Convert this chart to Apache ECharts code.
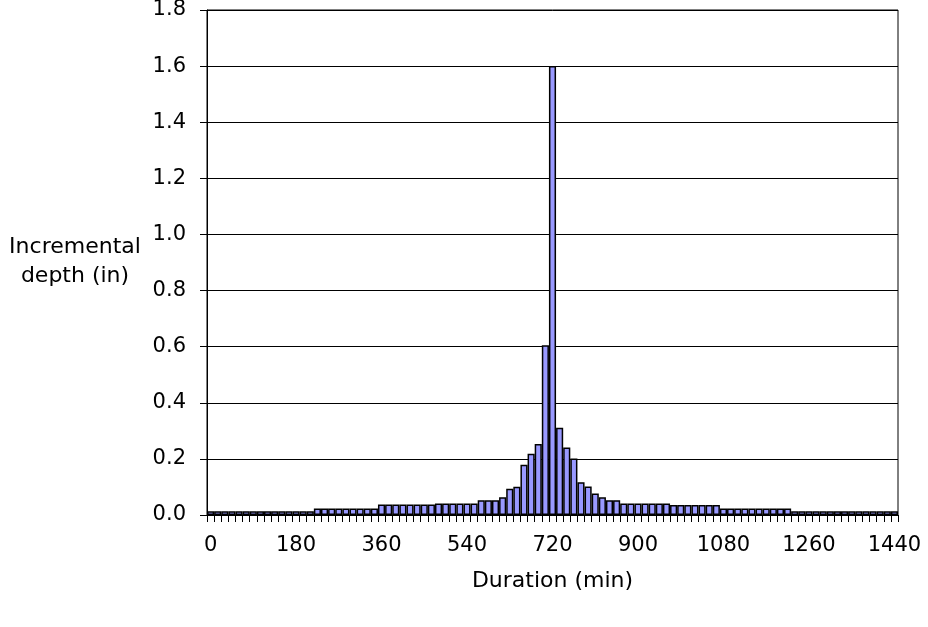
<!DOCTYPE html>
<html>
<head>
<meta charset="UTF-8">
<title>Incremental depth</title>
<script src="https://cdn.jsdelivr.net/npm/echarts@6/dist/echarts.min.js"></script>
<style>
  html, body { margin: 0; padding: 0; background: #fff; }
</style>
</head>
<body>
    <div id="main" style="width: 928px; height: 627px;"></div>
    <script>
        // duration (min), one category per 15 min step
        var minutes = [
            0, 15, 30, 45, 60, 75, 90, 105, 120, 135, 150, 165,
            180, 195, 210, 225, 240, 255, 270, 285, 300, 315, 330, 345,
            360, 375, 390, 405, 420, 435, 450, 465, 480, 495, 510, 525,
            540, 555, 570, 585, 600, 615, 630, 645, 660, 675, 690, 705,
            720, 735, 750, 765, 780, 795, 810, 825, 840, 855, 870, 885,
            900, 915, 930, 945, 960, 975, 990, 1005, 1020, 1035, 1050, 1065,
            1080, 1095, 1110, 1125, 1140, 1155, 1170, 1185, 1200, 1215, 1230, 1245,
            1260, 1275, 1290, 1305, 1320, 1335, 1350, 1365, 1380, 1395, 1410, 1425,
            1440
        ];

        // incremental depth (in)
        var depth = [
            0.013, 0.013, 0.013, 0.013, 0.013, 0.013, 0.013, 0.013, 0.013, 0.013, 0.013, 0.013,
            0.013, 0.013, 0.013, 0.023, 0.023, 0.023, 0.023, 0.023, 0.023, 0.023, 0.023, 0.023,
            0.037, 0.037, 0.037, 0.037, 0.037, 0.037, 0.037, 0.037, 0.041, 0.041, 0.041, 0.041,
            0.041, 0.041, 0.053, 0.053, 0.053, 0.063, 0.094, 0.101, 0.179, 0.218, 0.253, 0.605,
            1.600, 0.311, 0.241, 0.201, 0.117, 0.102, 0.077, 0.063, 0.053, 0.053, 0.041, 0.041,
            0.041, 0.041, 0.041, 0.041, 0.041, 0.036, 0.036, 0.036, 0.036, 0.036, 0.036, 0.036,
            0.023, 0.023, 0.023, 0.023, 0.023, 0.023, 0.023, 0.023, 0.023, 0.023, 0.013, 0.013,
            0.013, 0.013, 0.013, 0.013, 0.013, 0.013, 0.013, 0.013, 0.013, 0.013, 0.013, 0.013,
            0.013
        ];

        var xTickLabels = ['0', '180', '360', '540', '720', '900', '1080', '1260', '1440'];
        var yTicks = [0, 0.2, 0.4, 0.6, 0.8, 1.0, 1.2, 1.4, 1.6, 1.8];

        var font = 'Verdana, "DejaVu Sans", sans-serif';
        var myChart = echarts.init(document.getElementById("main"));

        var option = {
            backgroundColor: '#fff',
            animation: false,
            grid: {
                left: 207, right: 30, top: 10, bottom: 112,
                containLabel: false,
                outerBoundsMode: 'none',
                show: true,
                borderColor: '#000',
                borderWidth: 1
            },
            graphic: [{
                type: 'text',
                x: 75, y: 262,
                style: {
                    text: 'Incremental\ndepth (in)',
                    font: '22px ' + font,
                    fill: '#000',
                    textAlign: 'center',
                    textVerticalAlign: 'middle',
                    lineHeight: 29
                }
            }],
            xAxis: {
                type: 'category',
                data: minutes,
                boundaryGap: true,
                name: 'Duration (min)',
                nameLocation: 'middle',
                nameGap: 55,
                nameTextStyle: { fontFamily: font, fontSize: 22, color: '#000' },
                axisLine: { lineStyle: { color: '#000', width: 1 } },
                axisTick: { show: true, interval: 0, length: 7, lineStyle: { color: '#000' } },
                axisLabel: {
                    interval: 11,
                    margin: 20,
                    fontFamily: font, fontSize: 21, color: '#000',
                    formatter: function (v) {
                        return xTickLabels.indexOf(String(v)) >= 0 ? String(v) : '';
                    }
                },
                splitLine: { show: false }
            },
            yAxis: {
                type: 'value',
                min: yTicks[0],
                max: yTicks[yTicks.length - 1],
                interval: 0.2,
                axisLine: { show: true, lineStyle: { color: '#000', width: 1 } },
                axisTick: { show: true, length: 7, lineStyle: { color: '#000' } },
                axisLabel: {
                    margin: 21,
                    fontFamily: font, fontSize: 21, color: '#000',
                    formatter: function (v) { return v.toFixed(1); }
                },
                splitLine: { show: true, lineStyle: { color: '#000', width: 1 } }
            },
            series: [{
                type: 'bar',
                data: depth,
                barCategoryGap: 0,
                itemStyle: { color: '#9999FF', borderColor: '#000', borderWidth: 1.5 }
            }]
        };

        myChart.setOption(option);
    </script>
</body>
</html>
